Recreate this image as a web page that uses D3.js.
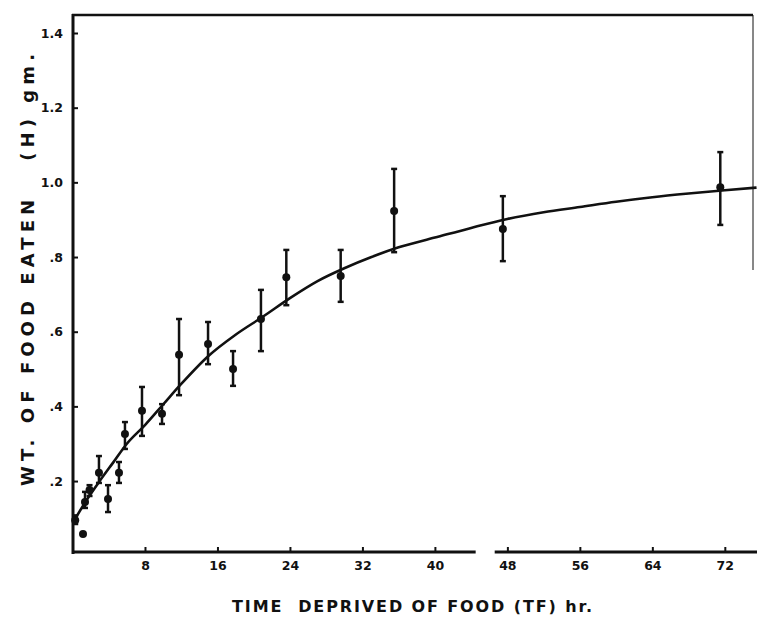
<!DOCTYPE html>
<html lang="en">
<head>
<meta charset="UTF-8">
<title>food eaten vs deprivation</title>
<style>
  body { margin: 0; background: #fff; }
  svg { display: block; }
  .ax text { font-family: "DejaVu Sans", sans-serif; font-weight: bold; font-size: 12.5px; fill: #111; }
  .ax line { stroke: #111; stroke-width: 2px; }
  .ax path { display: none; }
  .ttl { font-family: "DejaVu Sans", sans-serif; font-weight: bold; fill: #111; white-space: pre; }
</style>
</head>
<body>
<svg id="graph" width="757" height="622"></svg>
<script src="https://cdn.jsdelivr.net/npm/d3@7"></script>
<script>
"use strict";

// measured points (hours deprived, grams eaten, error bar low / high)
var hours = [0.3, 1.16, 1.38, 1.88, 2.92, 3.92, 5.13, 5.79, 7.67, 9.88, 11.76, 14.96, 17.72, 20.8, 23.6, 29.6, 35.5, 47.5, 71.5];
var eaten = [0.095, 0.058, 0.144, 0.176, 0.222, 0.152, 0.222, 0.326, 0.388, 0.38, 0.538, 0.567, 0.5, 0.634, 0.746, 0.749, 0.923, 0.875, 0.987];
var errLow = [0.085, 0.058, 0.128, 0.16, 0.195, 0.117, 0.195, 0.286, 0.321, 0.353, 0.43, 0.513, 0.455, 0.548, 0.671, 0.68, 0.813, 0.789, 0.886];
var errHigh = [0.108, 0.058, 0.171, 0.189, 0.267, 0.189, 0.251, 0.358, 0.452, 0.406, 0.634, 0.626, 0.548, 0.712, 0.819, 0.819, 1.036, 0.963, 1.081];

// fitted curve
var curveT = [0.2, 1.5, 3, 4.5, 6, 8, 10, 12, 15, 18, 21, 24, 27, 30, 33, 36, 40, 44, 48, 52, 56, 60, 64, 68, 72, 75.5];
var curveV = [0.095, 0.147, 0.2, 0.25, 0.3, 0.35, 0.405, 0.46, 0.535, 0.592, 0.64, 0.69, 0.735, 0.77, 0.8, 0.826, 0.852, 0.878, 0.902, 0.92, 0.934, 0.948, 0.96, 0.97, 0.979, 0.986];

var xTicks = [8, 16, 24, 32, 40, 48, 56, 64, 72];
var yTicks = [0.2, 0.4, 0.6, 0.8, 1.0, 1.2, 1.4];
var yTickLabels = [".2", ".4", ".6", ".8", "1.0", "1.2", "1.4"];

var svg = d3.select("#graph");

var x = d3.scaleLinear().domain([0, 75]).range([72.5, 752]);
var y = d3.scaleLinear().domain([0.01, 1.4]).range([552, 33]);

// y axis ticks pointing inward
svg.append("g")
  .attr("class", "ax")
  .attr("transform", "translate(73,0)")
  .call(d3.axisLeft(y).tickValues(yTicks).tickSizeInner(-5).tickSizeOuter(0).tickPadding(10)
    .tickFormat(function(d, i){ return yTickLabels[i]; }));

// x axis ticks
svg.append("g")
  .attr("class", "ax")
  .attr("transform", "translate(0,552)")
  .call(d3.axisBottom(x).tickValues(xTicks).tickSizeInner(-5).tickSizeOuter(0).tickPadding(9)
    .tickFormat(function(d){ return d; }));

// frame
var frame = svg.append("g").attr("stroke", "#111").attr("fill", "none");
frame.append("line").attr("x1", 73).attr("x2", 73).attr("y1", 14).attr("y2", 554).attr("stroke-width", 3);
frame.append("line").attr("x1", 72).attr("x2", 753).attr("y1", 15).attr("y2", 15).attr("stroke-width", 2.5);
frame.append("line").attr("x1", 753).attr("x2", 753).attr("y1", 15).attr("y2", 270).attr("stroke-width", 1);
// bottom axis with hand-drawn break
frame.append("line").attr("x1", 72).attr("x2", x(44.5)).attr("y1", 552).attr("y2", 552).attr("stroke-width", 3);
frame.append("line").attr("x1", x(46.6)).attr("x2", 757).attr("y1", 552).attr("y2", 552).attr("stroke-width", 3);

// curve
var line = d3.line()
  .x(function(d){ return x(d[0]); })
  .y(function(d){ return y(d[1]); })
  .curve(d3.curveMonotoneX);

svg.append("path")
  .datum(d3.zip(curveT, curveV))
  .attr("d", line)
  .attr("fill", "none")
  .attr("stroke", "#111")
  .attr("stroke-width", 2.6);

// error bars
var pts = d3.range(hours.length);
var eb = svg.append("g").attr("stroke", "#111");
eb.selectAll("line.bar").data(pts).enter().append("line")
  .attr("x1", function(i){ return x(hours[i]); })
  .attr("x2", function(i){ return x(hours[i]); })
  .attr("y1", function(i){ return y(errLow[i]); })
  .attr("y2", function(i){ return y(errHigh[i]); })
  .attr("stroke-width", 2.5);
eb.selectAll("line.capt").data(pts).enter().append("line")
  .attr("x1", function(i){ return x(hours[i]) - 3; })
  .attr("x2", function(i){ return x(hours[i]) + 3; })
  .attr("y1", function(i){ return y(errHigh[i]); })
  .attr("y2", function(i){ return y(errHigh[i]); })
  .attr("stroke-width", 2.5);
eb.selectAll("line.capb").data(pts).enter().append("line")
  .attr("x1", function(i){ return x(hours[i]) - 3; })
  .attr("x2", function(i){ return x(hours[i]) + 3; })
  .attr("y1", function(i){ return y(errLow[i]); })
  .attr("y2", function(i){ return y(errLow[i]); })
  .attr("stroke-width", 2.5);

svg.append("g").selectAll("circle").data(pts).enter().append("circle")
  .attr("cx", function(i){ return x(hours[i]); })
  .attr("cy", function(i){ return y(eaten[i]); })
  .attr("r", 4)
  .attr("fill", "#111");

// titles
svg.append("text")
  .attr("class", "ttl")
  .attr("transform", "translate(34,486) rotate(-90)")
  .attr("font-size", 18)
  .attr("textLength", 432)
  .attr("lengthAdjust", "spacing")
  .text("WT. OF FOOD EATEN   (H) gm.");

svg.append("text")
  .attr("class", "ttl")
  .attr("x", 232)
  .attr("y", 612)
  .attr("font-size", 16)
  .attr("textLength", 360)
  .attr("lengthAdjust", "spacing")
  .text("TIME  DEPRIVED OF FOOD (TF) hr.");
</script>
</body>
</html>
